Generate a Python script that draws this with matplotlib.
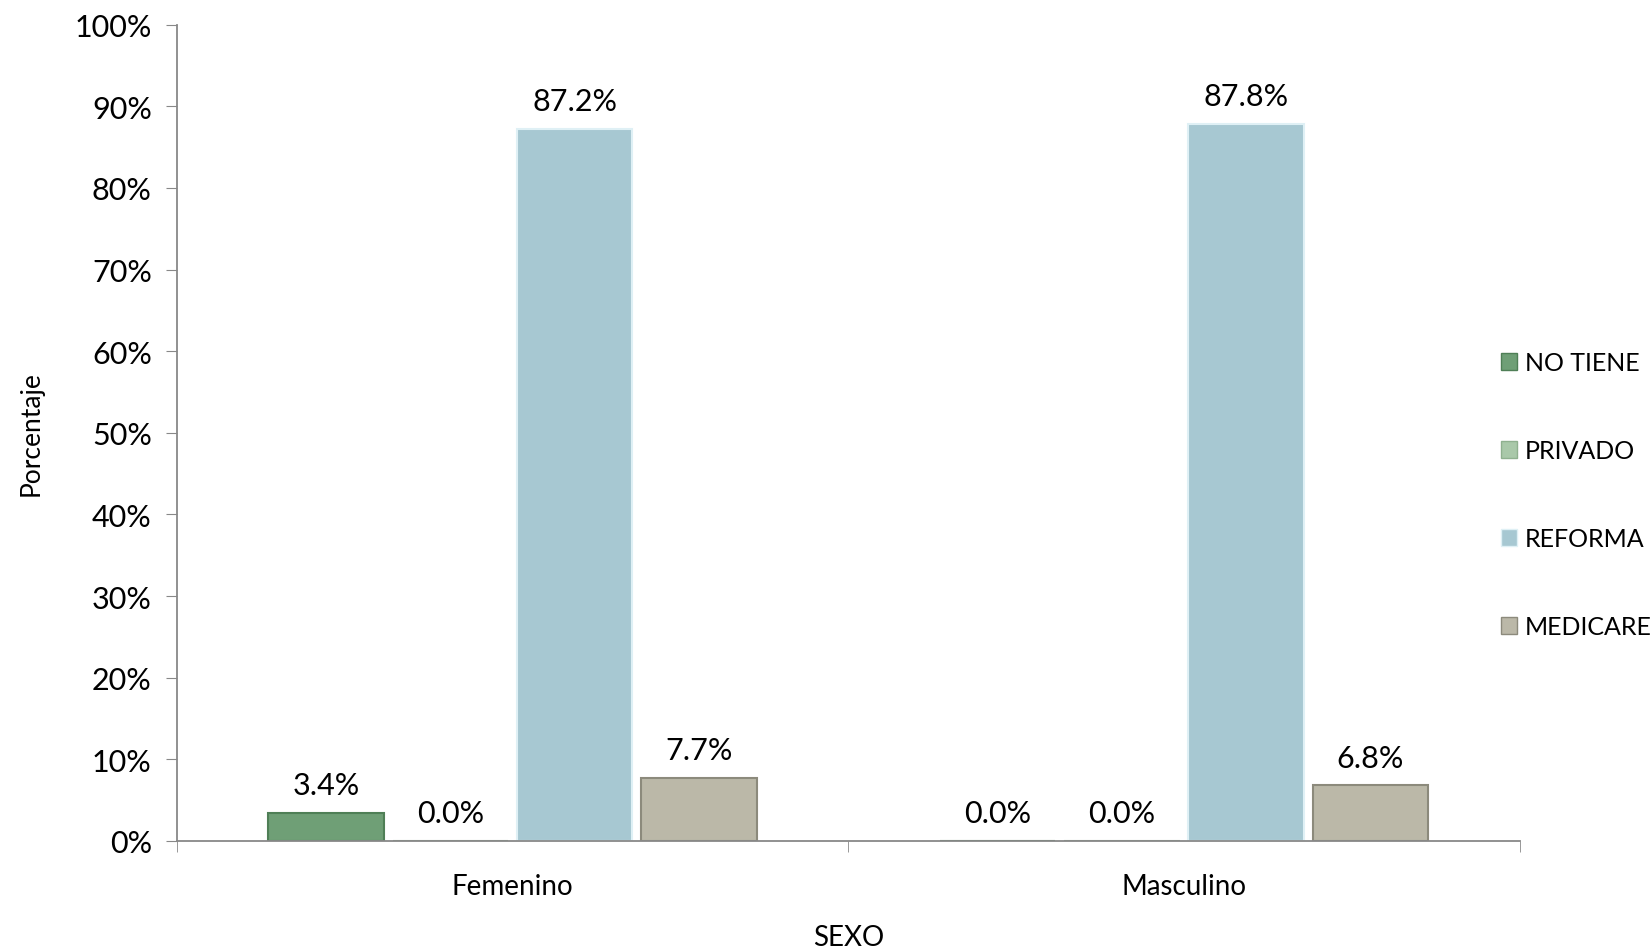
import matplotlib.pyplot as plt
import matplotlib.patches as mpatches
import numpy as np

plt.rcParams["font.family"] = ["Lato", "DejaVu Sans"]

categories = ["Femenino", "Masculino"]
series_names = ["NO TIENE", "PRIVADO", "REFORMA", "MEDICARE"]
no_tiene = [3.4, 0.0]
privado = [0.0, 0.0]
reforma = [87.2, 87.8]
medicare = [7.7, 6.8]
y_ticks = [0, 10, 20, 30, 40, 50, 60, 70, 80, 90, 100]

series_values = [no_tiene, privado, reforma, medicare]
colors = ["#6f9f76", "#a9c8a9", "#a7c8d2", "#bbb8a8"]
edges = ["#4f7f56", "#8fb08f", "#dff0f5", "#8c8a7c"]

fig = plt.figure(figsize=(16.52, 9.53), dpi=100)
ax = fig.add_axes([0.107, 0.1165, 0.813, 0.8565])

x = np.arange(len(categories))
step = 0.185
width = 0.172

for i, (name, vals) in enumerate(zip(series_names, series_values)):
    pos = x + (i - 1.5) * step
    ax.bar(pos, vals, width, color=colors[i], edgecolor=edges[i],
           linewidth=1.5, label=name, zorder=2)
    for p, v in zip(pos, vals):
        ax.annotate(f"{v:.1f}%", (p, v), xytext=(0, 10),
                    textcoords="offset points", ha="center", va="bottom",
                    fontsize=22)

ax.set_xlim(-0.5, 1.5)
ax.set_ylim(0, 100)
ax.set_yticks(y_ticks)
ax.set_yticklabels([f"{t}%" for t in y_ticks], fontsize=22)
ax.set_xticks(x)
ax.set_xticklabels(categories, fontsize=20)
ax.set_xticks([-0.5, 0.5, 1.5], minor=True)
ax.tick_params(axis="x", which="major", length=0, pad=23)
ax.tick_params(axis="x", which="minor", length=8, color="#888888")
ax.tick_params(axis="y", length=8, color="#888888", pad=10)

for s in ["top", "right"]:
    ax.spines[s].set_visible(False)
for s in ["left", "bottom"]:
    ax.spines[s].set_color("#888888")
    ax.spines[s].set_linewidth(1.3)

ax.set_ylabel("Porcentaje", fontsize=19, labelpad=22)
ax.set_xlabel("SEXO", fontsize=20, labelpad=18)

handles = [mpatches.Patch(facecolor=c, edgecolor=e, label=n)
           for c, e, n in zip(colors, edges, series_names)]
fig.legend(handles=handles, loc="center left", bbox_to_anchor=(0.895, 0.48),
           frameon=False, fontsize=18, handlelength=0.65, handleheight=0.65,
           handletextpad=0.3, labelspacing=2.6)

fig.savefig("out.png", dpi=100)
